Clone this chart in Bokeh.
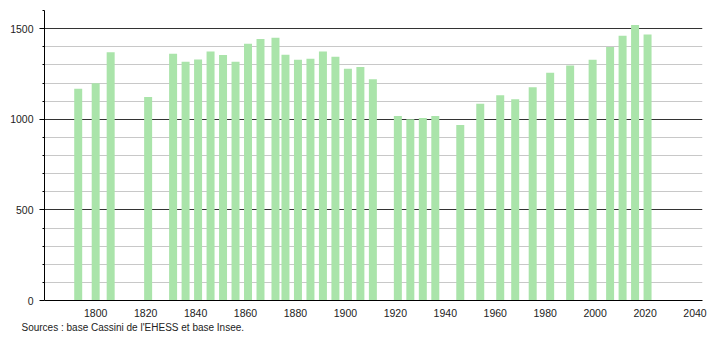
from bokeh.plotting import figure
from bokeh.models import Range1d, FixedTicker, Title, ColumnDataSource
from bokeh.embed import file_html
from bokeh.resources import INLINE

years = [1793, 1800, 1806, 1821, 1831, 1836, 1841, 1846, 1851, 1856, 1861, 1866,
         1872, 1876, 1881, 1886, 1891, 1896, 1901, 1906, 1911, 1921, 1926, 1931,
         1936, 1946, 1954, 1962, 1968, 1975, 1982, 1990, 1999, 2006, 2011, 2016, 2021]
population = [1168, 1199, 1369, 1123, 1361, 1317, 1330, 1374, 1354, 1317, 1417, 1443,
              1450, 1356, 1328, 1334, 1374, 1345, 1278, 1288, 1221, 1018, 1000, 1007,
              1018, 968, 1085, 1133, 1111, 1177, 1256, 1297, 1328, 1398, 1461, 1520, 1468]
x_ticks = list(range(1800, 2041, 20))
y_major = [0, 500, 1000, 1500]
y_minor = [v for v in range(0, 1601, 100) if v % 500 != 0]
source_text = "Sources : base Cassini de l'EHESS et base Insee."

FONT = "Liberation Sans"

p = figure(width=710, height=340, output_backend="svg", toolbar_location=None,
           x_range=Range1d(1779.5, 2043), y_range=Range1d(0, 1600),
           min_border_left=44, min_border_right=8, min_border_top=10, min_border_bottom=40)
p.outline_line_color = None
p.background_fill_color = "white"
p.border_fill_color = "white"

src = ColumnDataSource(dict(x=years, top=population))
p.vbar(x="x", top="top", width=3.2, source=src, fill_color="#aae4aa", line_color=None)

# x axis
p.xaxis.ticker = FixedTicker(ticks=x_ticks)
p.xaxis.major_tick_line_color = None
p.xaxis.minor_tick_line_color = None
p.xaxis.axis_line_color = "black"
p.xaxis.major_label_text_font = FONT
p.xaxis.major_label_text_font_size = "10.5px"
p.xaxis.major_label_text_color = "#222222"
p.xaxis.major_label_standoff = 2
p.xgrid.grid_line_color = None

# y axis
yt = FixedTicker(ticks=y_major, minor_ticks=y_minor)
p.yaxis.ticker = yt
p.yaxis.major_tick_out = 5
p.yaxis.major_tick_in = 0
p.yaxis.minor_tick_out = 2
p.yaxis.minor_tick_in = 0
p.yaxis.axis_line_color = "black"
p.yaxis.major_tick_line_color = "black"
p.yaxis.minor_tick_line_color = "black"
p.yaxis.major_label_text_font = FONT
p.yaxis.major_label_text_font_size = "10.5px"
p.yaxis.major_label_text_color = "#222222"
p.yaxis.major_label_standoff = 6

p.ygrid.ticker = yt
p.ygrid.grid_line_color = "#333333"
p.ygrid.grid_line_width = 1
p.ygrid.minor_grid_line_color = "#c8c8c8"
p.ygrid.minor_grid_line_width = 1

t = Title(text=source_text, align="left", offset=-23, text_font=FONT,
          text_font_size="10px", text_font_style="normal", text_color="#222222",
          standoff=1)
p.add_layout(t, "below")

open("out.html", "w").write(file_html(p, INLINE))
